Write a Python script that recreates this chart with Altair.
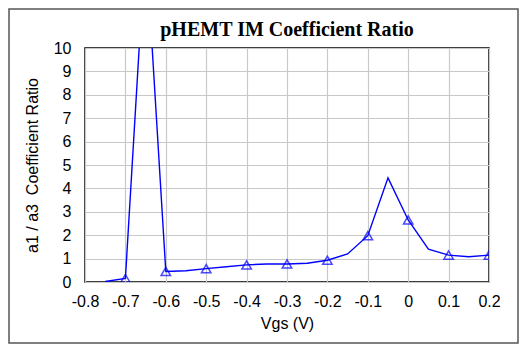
import altair as alt
import pandas as pd

vgs = [-0.75, -0.70, -0.65, -0.60, -0.55, -0.50, -0.45, -0.40, -0.35, -0.30,
       -0.25, -0.20, -0.15, -0.10, -0.05, 0.00, 0.05, 0.10, 0.15, 0.20]
ratio = [0.02, 0.15, 14.6, 0.45, 0.48, 0.57, 0.65, 0.73, 0.77, 0.77,
         0.80, 0.93, 1.20, 1.98, 4.45, 2.65, 1.40, 1.15, 1.08, 1.15]
marker_vgs = [-0.7, -0.6, -0.5, -0.4, -0.3, -0.2, -0.1, 0.0, 0.1, 0.2]

x_ticks = [-0.8, -0.7, -0.6, -0.5, -0.4, -0.3, -0.2, -0.1, 0.0, 0.1, 0.2]
y_ticks = [0, 1, 2, 3, 4, 5, 6, 7, 8, 9, 10]

df = pd.DataFrame({"vgs": vgs, "ratio": ratio})
mk = df[df["vgs"].round(2).isin([round(v, 2) for v in marker_vgs])]

xs = alt.Scale(domain=[-0.8, 0.2], nice=False, zero=False)
ys = alt.Scale(domain=[0, 10], nice=False)

xenc = alt.X("vgs:Q", scale=xs,
             axis=alt.Axis(values=x_ticks, title="Vgs (V)", labelOverlap=False, labelFlush=False,
                           labelExpr="abs(datum.value) < 0.001 ? '0' : replace(format(datum.value, '.1f'), '−', '-')"))
yenc = alt.Y("ratio:Q", scale=ys,
             axis=alt.Axis(values=y_ticks, title="a1 / a3\u00a0 Coefficient Ratio",
                           labelOverlap=False, labelFlush=False))

line = alt.Chart(df).mark_line(color="#0000ff", strokeWidth=1.4, clip=True).encode(x=xenc, y=yenc)
pts = alt.Chart(mk).mark_point(shape="triangle-up", filled=False, color="#0000ff",
                               size=90, strokeWidth=1.5, clip=True).encode(x=xenc, y=yenc)

frame = alt.Chart(pd.DataFrame({"a": [0]})).mark_rect(
    fill=None, stroke="#555555", strokeWidth=1.5, clip=False
).encode(x=alt.value(-76), x2=alt.value(433), y=alt.value(-39), y2=alt.value(295))

chart = alt.layer(frame, line, pts).properties(
    width=404, height=234,
    title=alt.TitleParams("pHEMT IM Coefficient Ratio", font="Liberation Serif",
                          fontSize=20, fontWeight="bold", color="#000000", offset=-32,
                          frame="group"),
    autosize=alt.AutoSizeParams(type="none"),
    padding={"left": 77, "top": 40, "right": 30, "bottom": 63},
).configure_view(
    stroke="#000000", strokeWidth=1.5
).configure_axis(
    grid=True, gridColor="#c8c8c8", gridWidth=1.2, ticks=False, domain=False,
    labelFont="Liberation Sans", labelFontSize=16, labelColor="#000000",
    titleFont="Liberation Sans", titleFontSize=16, titleFontWeight="normal", titleColor="#000000",
).configure_axisX(labelPadding=11, titlePadding=6
).configure_axisY(labelPadding=14, titlePadding=13)

chart.save("out.html", embed_options={"renderer": "svg", "actions": False})
